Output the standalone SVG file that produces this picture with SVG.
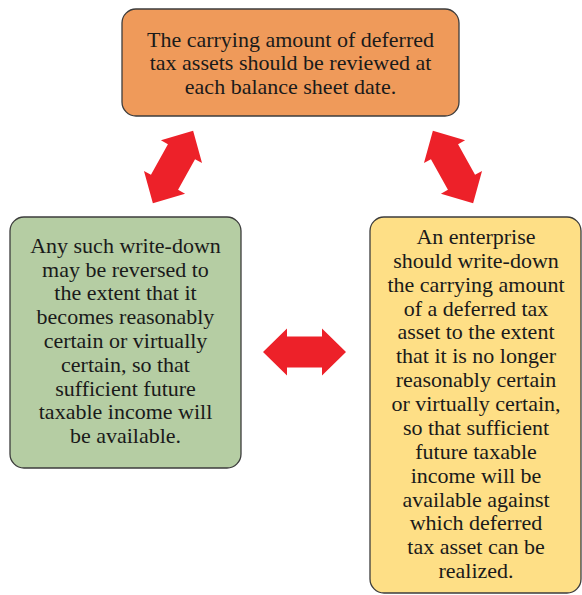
<svg xmlns="http://www.w3.org/2000/svg" width="582" height="595" viewBox="0 0 582 595">
<defs>
<style>
.box{stroke:#3c3c3c;stroke-width:1.3}
.t{font-family:"Liberation Serif","Times New Roman",serif;font-size:22px;fill:#1a1a1a;text-anchor:middle}
.arr{fill:#ED2129}
</style>
<path id="dbl" d="M-41.5,0 L-17.5,-23.5 L-17.5,-15.5 L17.5,-15.5 L17.5,-23.5 L41.5,0 L17.5,23.5 L17.5,15.5 L-17.5,15.5 L-17.5,23.5 Z"/>
</defs>
<rect width="582" height="595" fill="#fff"/>
<g id="connectors">
<use href="#dbl" class="arr" transform="translate(173,167) rotate(-61)"/>
<use href="#dbl" class="arr" transform="translate(453,167) rotate(61)"/>
<use href="#dbl" class="arr" transform="translate(304.5,352)"/>
</g>
<g id="top">
<rect class="box" x="122" y="9" width="337" height="107" rx="14" fill="#EF9A5A"/>
<text class="t" x="290.5" y="46.5">The carrying amount of deferred</text>
<text class="t" x="290.5" y="70">tax assets should be reviewed at</text>
<text class="t" x="290.5" y="93.5">each balance sheet date.</text>
</g>
<g id="left">
<rect class="box" x="10" y="217" width="231" height="251" rx="14" fill="#B5CDA3"/>
<text class="t" x="125.5" y="252.7">Any such write-down</text>
<text class="t" x="125.5" y="276.5">may be reversed to</text>
<text class="t" x="125.5" y="300.3">the extent that it</text>
<text class="t" x="125.5" y="324.1">becomes reasonably</text>
<text class="t" x="125.5" y="347.9">certain or virtually</text>
<text class="t" x="125.5" y="371.7">certain, so that</text>
<text class="t" x="125.5" y="395.5">sufficient future</text>
<text class="t" x="125.5" y="419.3">taxable income will</text>
<text class="t" x="125.5" y="443.1">be available.</text>
</g>
<g id="right">
<rect class="box" x="370" y="217" width="211" height="376" rx="14" fill="#FEDF86"/>
<text class="t" x="476" y="244">An enterprise</text>
<text class="t" x="476" y="267.9">should write-down</text>
<text class="t" x="476" y="291.7">the carrying amount</text>
<text class="t" x="476" y="315.6">of a deferred tax</text>
<text class="t" x="476" y="339.4">asset to the extent</text>
<text class="t" x="476" y="363.3">that it is no longer</text>
<text class="t" x="476" y="387.2">reasonably certain</text>
<text class="t" x="476" y="411">or virtually certain,</text>
<text class="t" x="476" y="434.9">so that sufficient</text>
<text class="t" x="476" y="458.7">future taxable</text>
<text class="t" x="476" y="482.6">income will be</text>
<text class="t" x="476" y="506.5">available against</text>
<text class="t" x="476" y="530.3">which deferred</text>
<text class="t" x="476" y="554.2">tax asset can be</text>
<text class="t" x="476" y="578">realized.</text>
</g>
</svg>
